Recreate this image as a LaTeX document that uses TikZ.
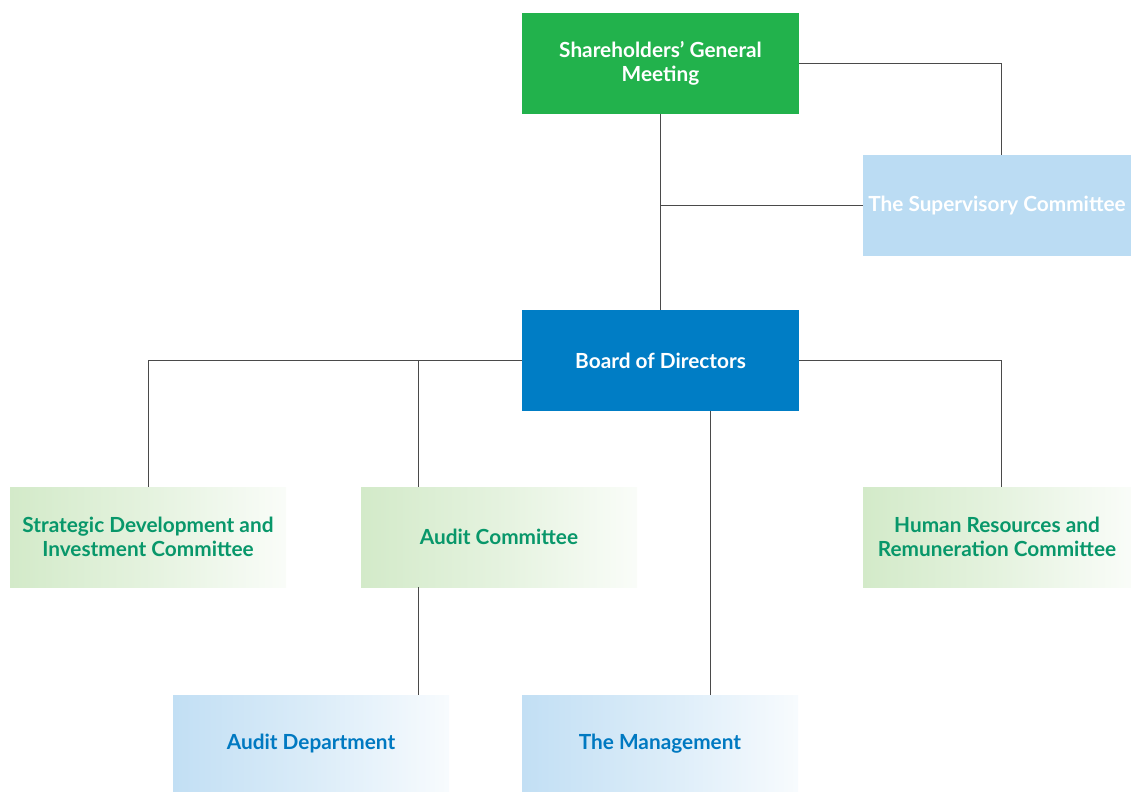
\documentclass[tikz,border=0pt]{standalone}
\usepackage{fontspec}
\setmainfont{Lato}
\usepackage{tikz}
\usetikzlibrary{positioning}

\definecolor{MeetGreen}{HTML}{22B24C}
\definecolor{SuperBlue}{HTML}{BBDCF3}
\definecolor{BoardBlue}{HTML}{007DC5}
\definecolor{TextGreen}{HTML}{08976A}
\definecolor{TextBlue}{HTML}{0079C1}
\definecolor{PaleGreen}{HTML}{D3EAC9}
\definecolor{PaleBlue}{HTML}{C2DFF4}
\definecolor{LineGray}{HTML}{4A4A4A}

\begin{document}
\begin{tikzpicture}[x=0.75pt, y=-0.75pt,
	BoxStyle/.style = {shape=rectangle, align=center, inner sep=0pt, font=\bfseries\fontsize{15.6}{17.5}\selectfont},
	SolidBox/.style = {BoxStyle, text=white, minimum width=207.75pt, minimum height=75.75pt},
	GreenBox/.style = {BoxStyle, text=TextGreen, minimum width=207pt, minimum height=75pt, left color=PaleGreen, right color=PaleGreen!12, middle color=PaleGreen!60},
	BlueBox/.style = {BoxStyle, text=TextBlue, minimum width=207pt, minimum height=72.75pt, left color=PaleBlue, right color=PaleBlue!12, middle color=PaleBlue!60},
	LinkStyle/.style = {draw=LineGray, line width=0.6pt}]
	\useasboundingbox (0,0) rectangle (1131,792);

	\node[SolidBox, fill=MeetGreen] (meeting) at (660.5,63.5) {Shareholders’ General\\Meeting};
	\node[SolidBox, fill=SuperBlue, minimum width=201pt] (super) at (997,205.5) {The Supervisory Committee};
	\node[SolidBox, fill=BoardBlue] (board) at (660.5,360.5) {Board of Directors};

	\node[GreenBox] (strategy) at (148,537) {Strategic Development and\\Investment Committee};
	\node[GreenBox] (audit) at (499,537) {Audit Committee};
	\node[GreenBox, minimum width=201pt] (human) at (997,537) {Human Resources and\\Remuneration Committee};

	\node[BlueBox] (auditdep) at (311,743.5) {Audit Department};
	\node[BlueBox] (manage) at (660,743.5) {The Management};

	% x positions of the vertical links
	\coordinate (superx) at (1001,0);
	\coordinate (auditx) at (418,0);
	\coordinate (managex) at (710,0);

	\path[LinkStyle]
		(meeting.east) -| (super.north -| superx)
		(meeting.south) -- (board.north)
		(meeting.south |- super.west) -- (super.west)
		(board.west) -| (strategy.north)
		(board.west -| auditx) -- (audit.north -| auditx)
		(board.east) -| (human.north -| superx)
		(board.south -| managex) -- (manage.north -| managex)
		(audit.south -| auditx) -- (auditdep.north -| auditx)
	;
\end{tikzpicture}
\end{document}
